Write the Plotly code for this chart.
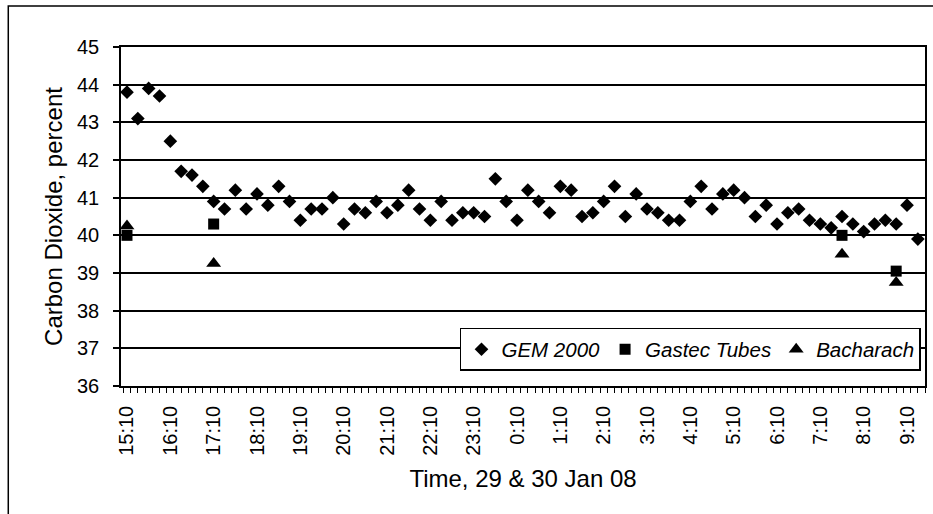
import plotly.graph_objects as go
from datetime import datetime, timedelta

# ---- data ----
gem_times = [
    "15:10", "15:25", "15:40", "15:55", "16:10", "16:25", "16:40", "16:55",
    "17:10", "17:25", "17:40", "17:55", "18:10", "18:25", "18:40", "18:55",
    "19:10", "19:25", "19:40", "19:55", "20:10", "20:25", "20:40", "20:55",
    "21:10", "21:25", "21:40", "21:55", "22:10", "22:25", "22:40", "22:55",
    "23:10", "23:25", "23:40", "23:55", "0:10", "0:25", "0:40", "0:55",
    "1:10", "1:25", "1:40", "1:55", "2:10", "2:25", "2:40", "2:55",
    "3:10", "3:25", "3:40", "3:55", "4:10", "4:25", "4:40", "4:55",
    "5:10", "5:25", "5:40", "5:55", "6:10", "6:25", "6:40", "6:55",
    "7:10", "7:25", "7:40", "7:55", "8:10", "8:25", "8:40", "8:55",
    "9:10", "9:25",
]
gem_values = [
    43.8, 43.1, 43.9, 43.7, 42.5, 41.7, 41.6, 41.3, 40.9, 40.7,
    41.2, 40.7, 41.1, 40.8, 41.3, 40.9, 40.4, 40.7, 40.7, 41.0,
    40.3, 40.7, 40.6, 40.9, 40.6, 40.8, 41.2, 40.7, 40.4, 40.9,
    40.4, 40.6, 40.6, 40.5, 41.5, 40.9, 40.4, 41.2, 40.9, 40.6,
    41.3, 41.2, 40.5, 40.6, 40.9, 41.3, 40.5, 41.1, 40.7, 40.6,
    40.4, 40.4, 40.9, 41.3, 40.7, 41.1, 41.2, 41.0, 40.5, 40.8,
    40.3, 40.6, 40.7, 40.4, 40.3, 40.2, 40.5, 40.3, 40.1, 40.3,
    40.4, 40.3, 40.8, 39.9,
]

gastec_times = ["15:10", "17:10", "7:40", "8:55"]
gastec_values = [40.0, 40.3, 40.0, 39.05]

bacharach_times = ["15:10", "17:10", "7:40", "8:55"]
bacharach_values = [40.25, 39.25, 39.5, 38.75]

tick_labels = ["15:10", "16:10", "17:10", "18:10", "19:10", "20:10", "21:10",
               "22:10", "23:10", "0:10", "1:10", "2:10", "3:10", "4:10",
               "5:10", "6:10", "7:10", "8:10", "9:10"]


def to_dt(hhmm):
    h, m = map(int, hhmm.split(":"))
    day = 29 if h >= 12 else 30
    return datetime(2008, 1, day, h, m)


FONT = "Liberation Sans, Arial, sans-serif"

fig = go.Figure()
fig.add_trace(go.Scatter(
    x=[to_dt(t) for t in gem_times], y=gem_values, mode="markers",
    name="GEM 2000",
    marker=dict(symbol="diamond", size=10.5, color="black"),
))
fig.add_trace(go.Scatter(
    x=[to_dt(t) for t in gastec_times], y=gastec_values, mode="markers",
    name="Gastec Tubes",
    marker=dict(symbol="square", size=11, color="black"),
))
fig.add_trace(go.Scatter(
    x=[to_dt(t) for t in bacharach_times], y=bacharach_values, mode="markers",
    name="Bacharach",
    marker=dict(symbol="triangle-up", size=13, color="black"),
))

start = to_dt("15:10")
x0 = start - timedelta(minutes=8.3)
x1 = start + timedelta(minutes=1104.9)

fig.update_layout(
    width=933, height=514,
    margin=dict(l=121, r=6, t=47, b=128),
    paper_bgcolor="white", plot_bgcolor="white",
    font=dict(family=FONT, size=20, color="black"),
    showlegend=True,
    legend=dict(
        orientation="h",
        x=0.995, xanchor="right", y=0.1714, yanchor="top",
        bgcolor="white", bordercolor="black", borderwidth=1.5,
        font=dict(family=FONT, size=20.5, color="black", style="italic"),
        itemwidth=30, tracegroupgap=0,
    ),
    xaxis=dict(
        type="date",
        range=[x0, x1],
        tickmode="array",
        tickvals=[to_dt(t) for t in tick_labels],
        ticktext=tick_labels,
        tickangle=-90,
        ticks="",
        ticklabelstandoff=10,
        showgrid=False, zeroline=False,
        showline=True, linecolor="black", linewidth=1.5, mirror=True,
        minor=dict(tickmode="linear", tick0=start - timedelta(minutes=5),
                   dtick=600000, ticks="outside", ticklen=5,
                   tickcolor="black", tickwidth=1.2, showgrid=False),
        title=dict(text="Time, 29 & 30 Jan 08", standoff=15,
                   font=dict(family=FONT, size=24)),
        tickfont=dict(family=FONT, size=20),
    ),
    yaxis=dict(
        range=[36, 45],
        tickmode="linear", tick0=36, dtick=1,
        ticks="outside", ticklen=6, tickcolor="black", tickwidth=1.5,
        ticklabelstandoff=10,
        showgrid=True, gridcolor="black", gridwidth=1.5,
        zeroline=False,
        showline=True, linecolor="black", linewidth=1.5, mirror=True,
        title=dict(text="Carbon Dioxide, percent", standoff=8,
                   font=dict(family=FONT, size=24)),
        tickfont=dict(family=FONT, size=20),
    ),
    shapes=[dict(type="rect", xref="paper", yref="paper",
                 x0=-0.1402, x1=1.2, y0=-0.5, y1=1.1208,
                 line=dict(color="black", width=1.5), layer="above")],
)

fig.write_html("out.html")
